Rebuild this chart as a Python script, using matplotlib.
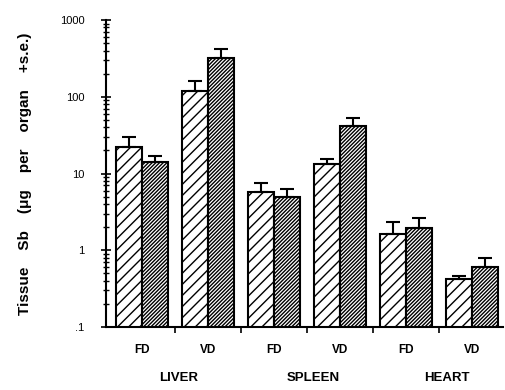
import matplotlib
matplotlib.use('Agg')
import matplotlib.pyplot as plt
from matplotlib.ticker import FixedLocator, LogLocator, NullFormatter
import numpy as np

# --------------------------------------------------------------------------------------
# Data

organs    = ['LIVER', 'SPLEEN', 'HEART']
groups    = ['FD', 'VD', 'FD', 'VD', 'FD', 'VD']
openVals  = [22, 120, 5.7, 13.3, 1.65, 0.42]
openErr   = [8, 42, 1.8, 2.0, 0.7, 0.04]
denseVals = [14, 320, 5.0, 42, 1.93, 0.61]
denseErr  = [3, 105, 1.2, 11, 0.7, 0.19]
yTicks    = [0.1, 1, 10, 100, 1000]
yLabels   = ['.1', '1', '10', '100', '1000']

# --------------------------------------------------------------------------------------
# Chart

plt.rcParams['font.family'] = ['Liberation Sans', 'DejaVu Sans']
plt.rcParams['hatch.linewidth'] = 1.0

fig = plt.figure(figsize=(5.06, 3.9), dpi=100)
ax = fig.add_axes([106/506, 1 - 327/390, (503 - 106)/506, (327 - 20)/390])

x = np.arange(len(groups))
w = 0.39

errKw = dict(elinewidth=1.5, capthick=1.5, capsize=5, ecolor='k')
ax.bar(x - w/2, openVals, width=w, color='white', edgecolor='k', linewidth=1.5,
       hatch='///', yerr=[np.zeros(len(openErr)), openErr], error_kw=errKw)
ax.bar(x + w/2, denseVals, width=w, color='white', edgecolor='k', linewidth=1.5,
       hatch='/////////', yerr=[np.zeros(len(denseErr)), denseErr], error_kw=errKw)

ax.set_yscale('log')
ax.set_ylim(0.1, 1000)
ax.set_xlim(-0.545, 5.47)

ax.spines['top'].set_visible(False)
ax.spines['right'].set_visible(False)
ax.spines['left'].set_linewidth(1.5)
ax.spines['bottom'].set_linewidth(1.5)

# y
ax.yaxis.set_major_locator(FixedLocator(yTicks))
ax.set_yticklabels(yLabels, fontsize=8)
ax.yaxis.set_minor_locator(LogLocator(base=10, subs=np.arange(2, 10)))
ax.yaxis.set_minor_formatter(NullFormatter())
ax.tick_params(axis='y', which='major', direction='inout', length=7, width=1.2, pad=12)
ax.tick_params(axis='y', which='minor', direction='inout', length=4, width=1)
ax.set_ylabel('Tissue    Sb    (\u03bcg    per    organ    +s.e.)', fontsize=11,
              fontweight='bold', labelpad=20)

# x
ax.set_xticks(x)
ax.set_xticklabels(groups, fontsize=8.5, fontweight='bold')
ax.tick_params(axis='x', which='major', length=0, pad=12)
ax.set_xticks(x[:-1] + 0.5, minor=True)
ax.tick_params(axis='x', which='minor', direction='out', length=4, width=1.2)

organPos = [0.55, 2.59, 4.62]
for pos, organ in zip(organPos, organs):
    ax.text(pos, -0.165, organ, transform=ax.get_xaxis_transform(),
            ha='center', va='center', fontsize=9.5, fontweight='bold')

fig.savefig('out.png', dpi=100)
